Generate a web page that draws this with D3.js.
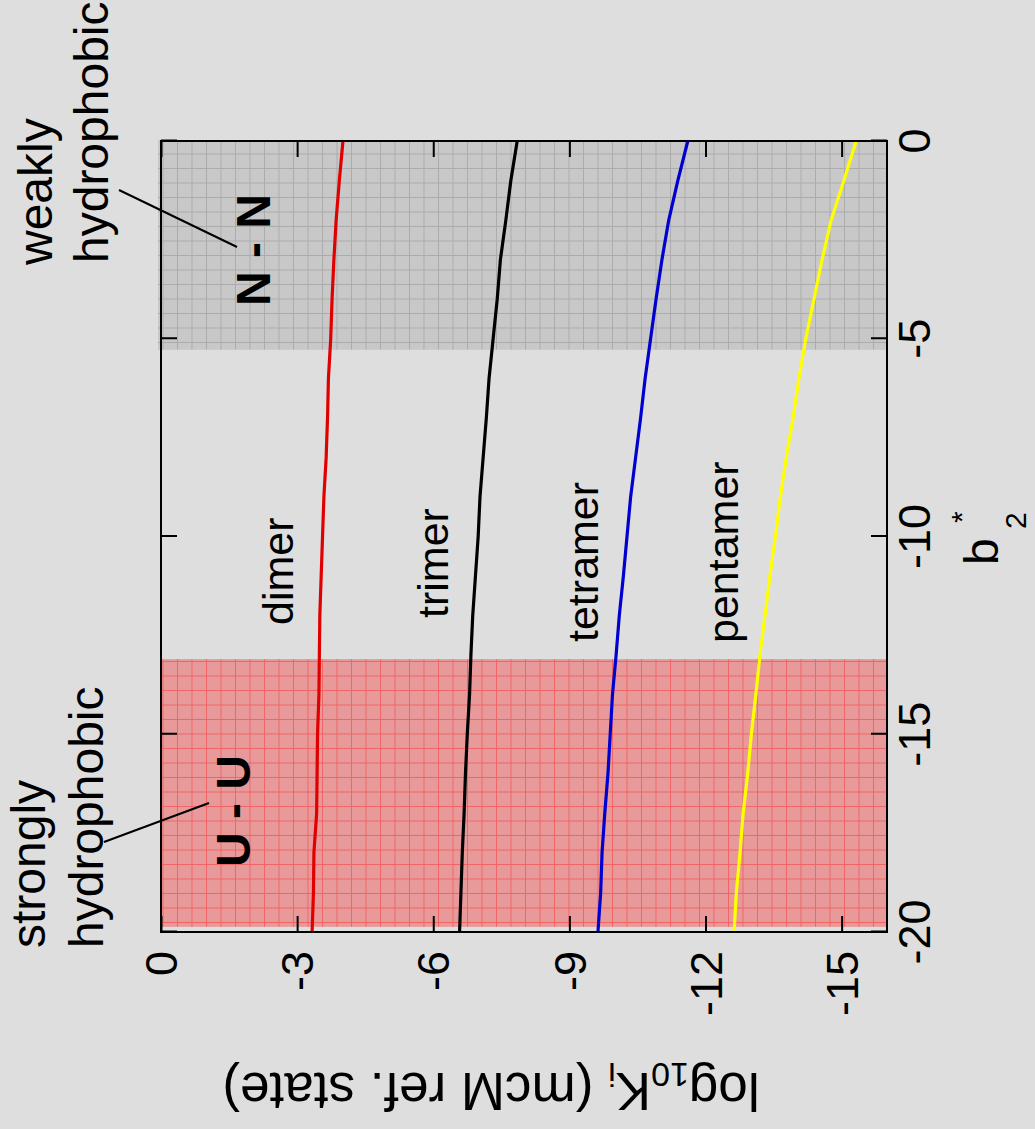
<!DOCTYPE html>
<html>
<head>
<meta charset="utf-8">
<script src="https://cdn.jsdelivr.net/npm/d3@7"></script>
<style>
  html, body { margin: 0; padding: 0; background: #dedede; }
  svg { display: block; }
  text { font-family: "Liberation Sans", Arial, Helvetica, sans-serif; fill: #000; }
</style>
</head>
<body>
<svg id="chart" width="1035" height="1129"></svg>
<script>
// ---------------- data ----------------
const b2Values = [-20, -19, -18, -17, -16, -15, -14, -13, -12, -11, -10, -9, -8, -7, -6, -5, -4, -3, -2, -1, 0];
const dimer    = [-3.33, -3.36, -3.37, -3.43, -3.44, -3.45, -3.48, -3.49, -3.50, -3.53, -3.56, -3.59, -3.64, -3.67, -3.69, -3.74, -3.77, -3.81, -3.86, -3.93, -4.01];
const trimer   = [-6.58, -6.61, -6.64, -6.68, -6.71, -6.75, -6.80, -6.83, -6.87, -6.93, -6.99, -7.03, -7.10, -7.17, -7.23, -7.32, -7.41, -7.48, -7.60, -7.71, -7.85];
const tetramer = [-9.63, -9.69, -9.72, -9.78, -9.85, -9.90, -9.95, -10.03, -10.10, -10.19, -10.27, -10.35, -10.46, -10.57, -10.67, -10.79, -10.91, -11.04, -11.19, -11.39, -11.61];
const pentamer = [-12.63, -12.68, -12.76, -12.83, -12.93, -13.01, -13.11, -13.20, -13.31, -13.42, -13.54, -13.65, -13.78, -13.93, -14.06, -14.21, -14.39, -14.57, -14.77, -15.05, -15.32];
const seriesNames = ["dimer", "trimer", "tetramer", "pentamer"];
const b2Ticks = [-20, -15, -10, -5, 0];
const logKTicks = [0, -3, -6, -9, -12, -15];
const b2Domain = [-20, 0];
const logKDomain = [0, -16];
const nnRange = [-5.28, 0];      // weakly hydrophobic (N - N)
const uuRange = [-19.87, -13.1]; // strongly hydrophobic (U - U)

// ---------------- layout (unrotated frame) ----------------
const W = 1129, H = 1035;
const svg = d3.select("#chart");
const defs = svg.append("defs");

function gridPattern(id, fill, stroke) {
  const p = defs.append("pattern").attr("id", id)
    .attr("patternUnits", "userSpaceOnUse")
    .attr("width", 14.5).attr("height", 14.5)
    .attr("x", 3).attr("y", 3);
  p.append("rect").attr("width", 14.5).attr("height", 14.5).attr("fill", fill);
  p.append("path").attr("d", "M0,0.5H14.5M0.5,0V14.5")
    .attr("stroke", stroke).attr("stroke-width", 1).attr("fill", "none");
}
gridPattern("grayGrid", "#c8c8c8", "#acacac");
gridPattern("redGrid", "#e89a9a", "#f06464");

const g = svg.append("g").attr("transform", `translate(0,${W}) rotate(-90)`);

const x = d3.scaleLinear().domain(b2Domain).range([197, 988]);
const y = d3.scaleLinear().domain(logKDomain).range([161, 887]);

// shaded regions
g.append("rect")
  .attr("x", x(nnRange[0])).attr("width", x(nnRange[1]) - x(nnRange[0]) + 1)
  .attr("y", y(0) - 3).attr("height", y(-16) - y(0) + 3)
  .attr("fill", "url(#grayGrid)");
g.append("rect")
  .attr("x", x(uuRange[0])).attr("width", x(uuRange[1]) - x(uuRange[0]))
  .attr("y", y(0)).attr("height", y(-16) - y(0))
  .attr("fill", "url(#redGrid)");

// lines
const colors = { dimer: "#e00000", trimer: "#000000", tetramer: "#0000d0", pentamer: "#ffff00" };
const seriesData = { dimer, trimer, tetramer, pentamer };
const line = d3.line().x(d => x(d[0])).y(d => y(d[1]));
seriesNames.forEach(name => {
  const pts = b2Values.map((b, i) => [b, seriesData[name][i]]);
  g.append("path").attr("d", line(pts))
    .attr("fill", "none").attr("stroke", colors[name])
    .attr("stroke-width", 3.2).attr("stroke-linejoin", "round");
});

// frame and axes (ticks inward on all sides)
const axisStyle = sel => {
  sel.selectAll(".domain").remove();
  sel.selectAll(".tick line").attr("stroke", "#000").attr("stroke-width", 2);
  sel.selectAll(".tick text").remove();
};
g.append("g").attr("transform", `translate(0,${y(-16)})`)
  .call(d3.axisBottom(x).tickValues(b2Ticks).tickSizeInner(-16).tickSizeOuter(0)).call(axisStyle);
g.append("g").attr("transform", `translate(0,${y(0)})`)
  .call(d3.axisTop(x).tickValues(b2Ticks).tickSizeInner(-16).tickSizeOuter(0)).call(axisStyle);
g.append("g").attr("transform", `translate(${x(-20)},0)`)
  .call(d3.axisLeft(y).tickValues(logKTicks).tickSizeInner(-16).tickSizeOuter(0)).call(axisStyle);
g.append("g").attr("transform", `translate(${x(0)},0)`)
  .call(d3.axisRight(y).tickValues(logKTicks).tickSizeInner(-16).tickSizeOuter(0)).call(axisStyle);
g.append("rect").attr("x", x(-20)).attr("y", y(0))
  .attr("width", x(0) - x(-20)).attr("height", y(-16) - y(0))
  .attr("fill", "none").attr("stroke", "#000").attr("stroke-width", 2);

// tick labels
g.selectAll(".xlab").data(b2Ticks).enter().append("text")
  .attr("x", d => x(d)).attr("y", 930)
  .attr("text-anchor", "middle").attr("font-size", 45)
  .text(d => d);
g.selectAll(".ylab").data(logKTicks).enter().append("text")
  .attr("x", 178).attr("y", d => y(d)).attr("dy", "0.36em")
  .attr("text-anchor", "end").attr("font-size", 45)
  .text(d => d);

// axis titles
g.append("text").attr("x", 564).attr("y", 998).attr("font-size", 48).text("b");
g.append("text").attr("x", 600).attr("y", 1026).attr("font-size", 30).text("2");
g.append("text").attr("x", 606).attr("y", 972).attr("font-size", 30).text("*");

const yt = g.append("text")
  .attr("transform", "translate(56,491) rotate(-90)")
  .attr("text-anchor", "middle").attr("font-size", 53);
yt.append("tspan").text("log");
yt.append("tspan").attr("font-size", 34).attr("dy", 10).text("10");
yt.append("tspan").attr("dy", -10).text("K");
yt.append("tspan").attr("font-size", 34).attr("dy", 10).text("i");
yt.append("tspan").attr("dy", -10).text(" (mcM ref. state)");

// region annotations
g.append("text").attr("x", 864).attr("y", 52).attr("font-size", 48).text("weakly");
g.append("text").attr("x", 866).attr("y", 108).attr("font-size", 48).text("hydrophobic");
g.append("text").attr("x", 181).attr("y", 45).attr("font-size", 48).text("strongly");
g.append("text").attr("x", 181).attr("y", 103).attr("font-size", 48).text("hydrophobic");
g.append("line").attr("x1", 939).attr("y1", 119).attr("x2", 882).attr("y2", 237)
  .attr("stroke", "#000").attr("stroke-width", 2);
g.append("line").attr("x1", 287).attr("y1", 104).attr("x2", 326).attr("y2", 209)
  .attr("stroke", "#000").attr("stroke-width", 2);
g.append("text").attr("x", 879).attr("y", 270).attr("text-anchor", "middle")
  .attr("font-size", 48).attr("font-weight", "bold").text("N - N");
g.append("text").attr("x", 318).attr("y", 250).attr("text-anchor", "middle")
  .attr("font-size", 48).attr("font-weight", "bold").text("U - U");

// series labels
const labelPos = { dimer: [504, 293], trimer: [511, 448], tetramer: [487, 598], pentamer: [486, 738] };
seriesNames.forEach(name => {
  g.append("text").attr("x", labelPos[name][0]).attr("y", labelPos[name][1])
    .attr("font-size", 43).text(name);
});
</script>
</body>
</html>
